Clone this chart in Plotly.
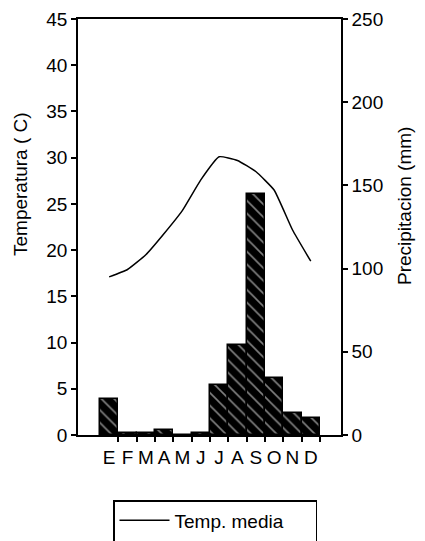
import plotly.graph_objects as go

# meses (posiciones 1..12) y etiquetas
mes_pos = list(range(1, 13))
mes_lbl = ["E", "F", "M", "A", "M", "J", "J", "A", "S", "O", "N", "D"]
mes_borde = [p + 0.5 for p in mes_pos]

# temperatura media mensual (C)
temp = [17.1, 17.9, 19.5, 21.8, 24.3, 27.6, 30.1, 29.7, 28.5, 26.5, 22.2, 18.8]
# precipitacion mensual (mm)
prec = [21.5, 1, 1, 3, 0, 1.5, 30, 54, 145, 34, 13, 10]

fnt = "Liberation Sans, Arial, sans-serif"
nb = "\u00a0"
xr = [-0.7, 13.65]

fig = go.Figure()
fig.add_trace(go.Bar(x=mes_pos, y=prec, yaxis="y2", width=1, showlegend=False,
                     marker=dict(color="black", line=dict(color="black", width=1.5),
                                 pattern=dict(shape="\\", bgcolor="black", fgcolor="white",
                                              size=9, solidity=0.18))))
fig.add_trace(go.Scatter(x=mes_pos, y=temp, mode="lines", name="Temp. media" + nb * 5 + "<br> ",
                         line=dict(color="black", width=1.5, shape="spline", smoothing=0.4)))
# traza vacia para que se dibuje el eje de las letras
fig.add_trace(go.Scatter(x=mes_pos, y=temp, xaxis="x2", mode="none", showlegend=False,
                         hoverinfo="skip"))

fig.update_layout(
    width=425, height=541,
    margin=dict(l=78, r=84, t=19, b=106, autoexpand=False),
    plot_bgcolor="white", paper_bgcolor="white",
    font=dict(family=fnt, size=19, color="black"),
    bargap=0,
    # eje con marcas en los limites de cada mes
    xaxis=dict(range=xr, tickmode="array", tickvals=mes_borde, ticktext=[""] * 12,
               ticks="outside", ticklen=5, tickwidth=1.5, tickcolor="black",
               showgrid=False, zeroline=False, showline=True, linecolor="black",
               linewidth=1.5, mirror=True),
    # eje superpuesto solo para las letras de los meses
    xaxis2=dict(range=xr, overlaying="x", anchor="y", side="bottom", tickmode="array",
                tickvals=mes_pos, ticktext=mes_lbl, ticks="outside", ticklen=5,
                tickcolor="rgba(0,0,0,0)", showgrid=False, zeroline=False, showline=False,
                tickfont=dict(size=19)),
    yaxis=dict(range=[0, 45], dtick=5, ticks="outside", ticklen=5, tickwidth=1.5,
               tickcolor="black", showgrid=False, zeroline=False, showline=True,
               linecolor="black", linewidth=1.5, tickfont=dict(size=19)),
    yaxis2=dict(range=[0, 250], dtick=50, overlaying="y", side="right", ticks="outside",
                ticklen=5, tickwidth=1.5, tickcolor="black", showgrid=False, zeroline=False,
                showline=True, linecolor="black", linewidth=1.5, tickfont=dict(size=19)),
    legend=dict(xref="container", yref="container", x=113 / 425, y=1 - 500 / 541,
                xanchor="left", yanchor="top", bordercolor="black", borderwidth=1.5,
                bgcolor="white", valign="top", itemwidth=50, font=dict(size=19)),
)

fig.add_annotation(text="Temperatura ( C)", xref="paper", yref="paper", x=-58 / 263,
                   y=(435 - 184) / 416, textangle=-90, showarrow=False, font=dict(size=19),
                   xanchor="center", yanchor="middle")
fig.add_annotation(text="Precipitacion (mm)", xref="paper", yref="paper", x=(405 - 78) / 263,
                   y=(435 - 206) / 416, textangle=-90, showarrow=False, font=dict(size=19),
                   xanchor="center", yanchor="middle")

fig.write_html("out.html", config={"displayModeBar": False},
               post_script="document.body.style.margin='0';")
